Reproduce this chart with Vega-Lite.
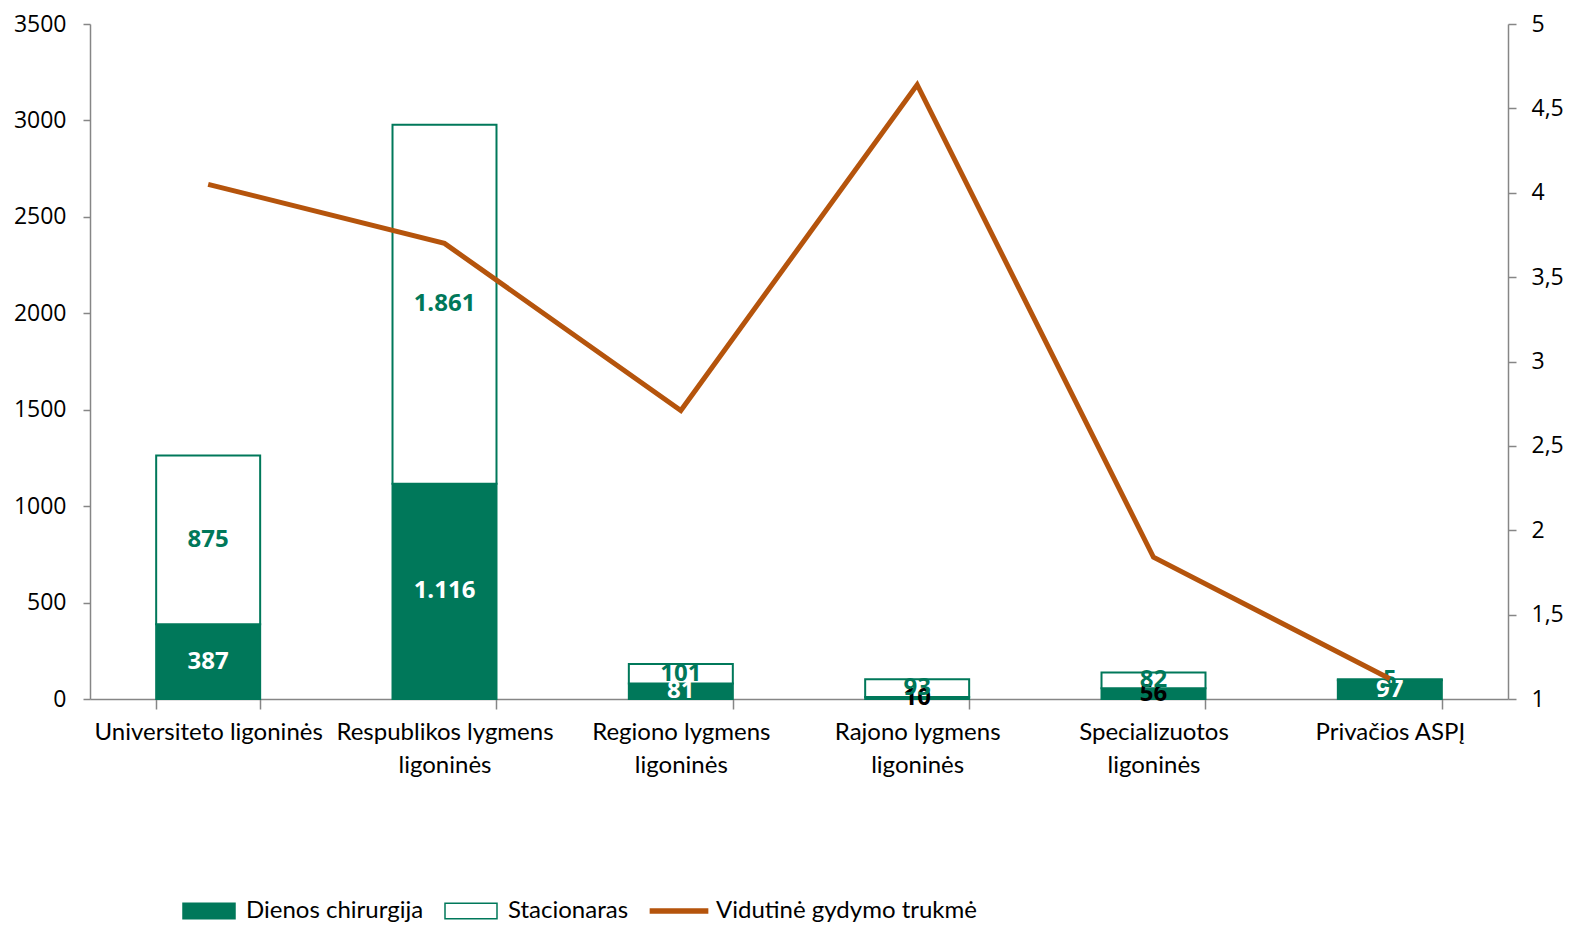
{
  "$schema": "https://vega.github.io/schema/vega-lite/v6.json",
  "autosize": {"type": "none"},
  "width": 1418,
  "height": 675,
  "padding": {"left": 90, "top": 24, "right": 63, "bottom": 226},
  "background": "white",
  "config": {
    "view": {"stroke": null},
    "locale": {
      "number": {"decimal": ",", "thousands": ".", "grouping": [3], "currency": ["", " €"]}
    },
    "axis": {
      "domainColor": "#868686",
      "domainWidth": 1.5,
      "tickColor": "#868686",
      "tickWidth": 1.5,
      "grid": false,
      "labelColor": "#000000",
      "title": null
    },
    "legend": {
      "orient": "none",
      "legendX": 92,
      "legendY": 860,
      "direction": "horizontal",
      "title": null,
      "padding": 0,
      "symbolSize": 2704,
      "symbolStrokeWidth": 1.5,
      "labelFont": "Lato",
      "labelFontSize": 24,
      "labelColor": "#000000",
      "labelOffset": 10,
      "columnPadding": 18,
      "labelLimit": 400
    }
  },
  "datasets": {
    "bars": [
      {"category": "Universiteto ligoninės", "series": "Dienos chirurgija", "value": 387},
      {"category": "Universiteto ligoninės", "series": "Stacionaras", "value": 875},
      {"category": "Respublikos lygmens ligoninės", "series": "Dienos chirurgija", "value": 1116},
      {"category": "Respublikos lygmens ligoninės", "series": "Stacionaras", "value": 1861},
      {"category": "Regiono lygmens ligoninės", "series": "Dienos chirurgija", "value": 81},
      {"category": "Regiono lygmens ligoninės", "series": "Stacionaras", "value": 101},
      {"category": "Rajono lygmens ligoninės", "series": "Dienos chirurgija", "value": 10},
      {"category": "Rajono lygmens ligoninės", "series": "Stacionaras", "value": 93},
      {"category": "Specializuotos ligoninės", "series": "Dienos chirurgija", "value": 56},
      {"category": "Specializuotos ligoninės", "series": "Stacionaras", "value": 82},
      {"category": "Privačios ASPĮ", "series": "Dienos chirurgija", "value": 97},
      {"category": "Privačios ASPĮ", "series": "Stacionaras", "value": 5}
    ],
    "line": [
      {"category": "Universiteto ligoninės", "avg": 4.05},
      {"category": "Respublikos lygmens ligoninės", "avg": 3.7},
      {"category": "Regiono lygmens ligoninės", "avg": 2.71},
      {"category": "Rajono lygmens ligoninės", "avg": 4.64},
      {"category": "Specializuotos ligoninės", "avg": 1.84},
      {"category": "Privačios ASPĮ", "avg": 1.12}
    ]
  },
  "encoding": {
    "x": {
      "field": "category",
      "type": "nominal",
      "scale": {
        "domain": ["Universiteto ligoninės", "Respublikos lygmens ligoninės", "Regiono lygmens ligoninės", "Rajono lygmens ligoninės", "Specializuotos ligoninės", "Privačios ASPĮ"],
        "paddingInner": 0.56,
        "paddingOuter": 0.28
      },
      "axis": {
        "labelAngle": 0,
        "tickBand": "extent",
        "tickSize": 10,
        "labelPadding": 11,
        "labelFont": "Lato",
        "labelFontSize": 24,
        "labelLineHeight": 33,
        "labelLimit": 300,
        "labelExpr": "indexof(datum.label, ' lygmens ') > 0 || datum.label == 'Specializuotos ligoninės' ? [replace(datum.label, ' ligoninės', ''), 'ligoninės'] : datum.label"
      }
    }
  },
  "layer": [
    {
      "layer": [
        {
          "data": {"name": "bars"},
          "mark": {"type": "bar", "strokeWidth": 2},
          "encoding": {
            "y": {
              "field": "value",
              "type": "quantitative",
              "stack": "zero",
              "scale": {"domain": [0, 3500], "nice": false},
              "axis": {
                "orient": "left",
                "values": [0, 500, 1000, 1500, 2000, 2500, 3000, 3500],
                "format": "d",
                "tickSize": 7,
                "labelPadding": 17,
                "labelFont": "Open Sans",
                "labelFontSize": 23
              }
            },
            "order": {"field": "series", "sort": "ascending"},
            "fill": {
              "field": "series",
              "type": "nominal",
              "scale": {
                "domain": ["Dienos chirurgija", "Stacionaras", "Vidutinė gydymo trukmė"],
                "range": ["#00785A", "#FFFFFF", "#B5540C"]
              },
              "legend": {
                "encode": {
                  "symbols": {
                    "update": {
                      "shape": {"signal": "datum.value == 'Vidutinė gydymo trukmė' ? 'M-1.1,-0.08H1.1V0.08H-1.1Z' : 'M-1,-0.3H1V0.3H-1Z'"}
                    }
                  }
                }
              }
            },
            "stroke": {
              "field": "series",
              "type": "nominal",
              "scale": {
                "domain": ["Dienos chirurgija", "Stacionaras", "Vidutinė gydymo trukmė"],
                "range": ["#00785A", "#00785A", "#B5540C"]
              },
              "legend": {
                "encode": {
                  "symbols": {
                    "update": {
                      "shape": {"signal": "datum.value == 'Vidutinė gydymo trukmė' ? 'M-1.1,-0.08H1.1V0.08H-1.1Z' : 'M-1,-0.3H1V0.3H-1Z'"}
                    }
                  }
                }
              }
            }
          }
        },
        {
          "data": {"name": "bars"},
          "mark": {"type": "text", "font": "Open Sans", "fontWeight": "bold", "fontSize": 24, "baseline": "middle", "align": "center"},
          "encoding": {
            "y": {
              "field": "value",
              "type": "quantitative",
              "stack": "zero",
              "bandPosition": 0.5,
              "scale": {"domain": [0, 3500], "nice": false}
            },
            "order": {"field": "series", "sort": "ascending"},
            "detail": {"field": "series", "type": "nominal"},
            "text": {"field": "value", "type": "quantitative", "format": ",d"},
            "color": {
              "condition": [
                {"test": "datum.series == 'Stacionaras'", "value": "#00785A"},
                {"test": "datum.category == 'Rajono lygmens ligoninės' || datum.category == 'Specializuotos ligoninės'", "value": "#000000"}
              ],
              "value": "#FFFFFF"
            }
          }
        }
      ]
    },
    {
      "data": {"name": "line"},
      "mark": {"type": "line", "strokeWidth": 5},
      "encoding": {
        "y": {
          "field": "avg",
          "type": "quantitative",
          "scale": {"domain": [1, 5], "nice": false, "zero": false},
          "axis": {
            "orient": "right",
            "values": [1, 1.5, 2, 2.5, 3, 3.5, 4, 4.5, 5],
            "format": ".1~f",
            "tickSize": 8,
            "labelPadding": 15,
            "labelFont": "Open Sans",
            "labelFontSize": 23
          }
        },
        "stroke": {"datum": "Vidutinė gydymo trukmė", "type": "nominal"}
      }
    }
  ],
  "resolve": {"scale": {"y": "independent"}}
}
